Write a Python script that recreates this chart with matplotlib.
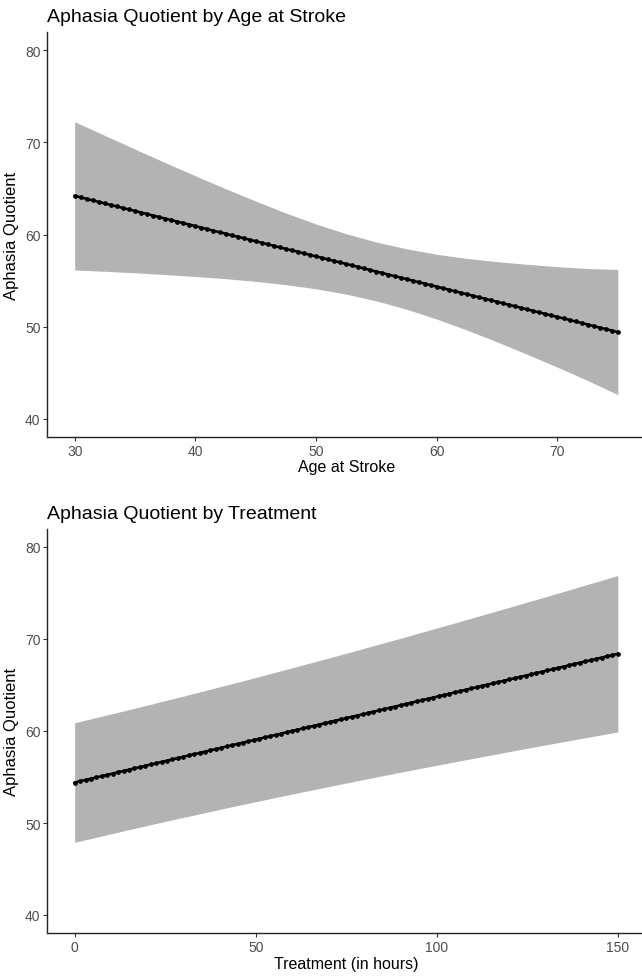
import numpy as np
import matplotlib.pyplot as plt

plt.rcParams['font.family'] = ['Liberation Sans', 'DejaVu Sans']

# --- panel 1: age at stroke ---
age_band_x = [30, 32.5, 35, 37.5, 40, 42.5, 45, 47.5, 50, 52.5, 55, 57.5, 60, 62.5, 65, 67.5, 70, 72.5, 75]
age_upper = [72.25, 70.76, 69.28, 67.81, 66.38, 64.98, 63.63, 62.33, 61.14, 60.08, 59.18, 58.44, 57.85, 57.40,
             57.05, 56.76, 56.50, 56.30, 56.20]
age_lower = [56.15, 56.00, 55.84, 55.65, 55.44, 55.20, 54.91, 54.55, 54.10, 53.52, 52.78, 51.88, 50.81, 49.62,
             48.33, 46.98, 45.58, 44.14, 42.60]
age_x = np.arange(30, 75.01, 0.5)
age_pred = [64.20, 64.04, 63.87, 63.71, 63.54, 63.38, 63.21, 63.05, 62.88, 62.72,
            62.56, 62.39, 62.23, 62.06, 61.90, 61.73, 61.57, 61.40, 61.24, 61.08,
            60.91, 60.75, 60.58, 60.42, 60.25, 60.09, 59.92, 59.76, 59.60, 59.43,
            59.27, 59.10, 58.94, 58.77, 58.61, 58.44, 58.28, 58.12, 57.95, 57.79,
            57.62, 57.46, 57.29, 57.13, 56.96, 56.80, 56.64, 56.47, 56.31, 56.14,
            55.98, 55.81, 55.65, 55.48, 55.32, 55.16, 54.99, 54.83, 54.66, 54.50,
            54.33, 54.17, 54.00, 53.84, 53.68, 53.51, 53.35, 53.18, 53.02, 52.85,
            52.69, 52.52, 52.36, 52.20, 52.03, 51.87, 51.70, 51.54, 51.37, 51.21,
            51.04, 50.88, 50.72, 50.55, 50.39, 50.22, 50.06, 49.89, 49.73, 49.56,
            49.40]

# --- panel 2: treatment hours ---
trt_band_x = [0, 15, 30, 45, 60, 75, 90, 105, 120, 135, 150]
trt_upper = [60.90, 62.32, 63.79, 65.30, 66.86, 68.45, 70.08, 71.75, 73.44, 75.16, 76.90]
trt_lower = [47.90, 49.28, 50.61, 51.90, 53.14, 54.35, 55.52, 56.65, 57.76, 58.84, 59.90]
trt_x = np.arange(0, 150.01, 1.5)
trt_pred = [54.40, 54.54, 54.68, 54.82, 54.96, 55.10, 55.24, 55.38, 55.52, 55.66,
            55.80, 55.94, 56.08, 56.22, 56.36, 56.50, 56.64, 56.78, 56.92, 57.06,
            57.20, 57.34, 57.48, 57.62, 57.76, 57.90, 58.04, 58.18, 58.32, 58.46,
            58.60, 58.74, 58.88, 59.02, 59.16, 59.30, 59.44, 59.58, 59.72, 59.86,
            60.00, 60.14, 60.28, 60.42, 60.56, 60.70, 60.84, 60.98, 61.12, 61.26,
            61.40, 61.54, 61.68, 61.82, 61.96, 62.10, 62.24, 62.38, 62.52, 62.66,
            62.80, 62.94, 63.08, 63.22, 63.36, 63.50, 63.64, 63.78, 63.92, 64.06,
            64.20, 64.34, 64.48, 64.62, 64.76, 64.90, 65.04, 65.18, 65.32, 65.46,
            65.60, 65.74, 65.88, 66.02, 66.16, 66.30, 66.44, 66.58, 66.72, 66.86,
            67.00, 67.14, 67.28, 67.42, 67.56, 67.70, 67.84, 67.98, 68.12, 68.26,
            68.40]

y_ticks = [40, 50, 60, 70, 80]

W, H = 642, 978
fig = plt.figure(figsize=(W / 100, H / 100), dpi=100)
fig.patch.set_facecolor('white')


def panel(top_px, bot_px, title, xlabel, bx, lo, hi, px, py, xticks, xlim):
    ax = fig.add_axes([47.5 / W, 1 - bot_px / H, 597.5 / W, (bot_px - top_px) / H])
    ax.fill_between(bx, lo, hi, color='#b3b3b3', linewidth=0)
    ax.plot(px, py, color='black', linewidth=1.8, marker='o', markersize=2.4)
    ax.set_xlim(*xlim)
    ax.set_ylim(38, 82)
    ax.set_xticks(xticks)
    ax.set_yticks(y_ticks)
    for side in ['top', 'right']:
        ax.spines[side].set_visible(False)
    for side in ['left', 'bottom']:
        ax.spines[side].set_linewidth(1.0)
        ax.spines[side].set_color('#222222')
    ax.tick_params(length=3, width=0.8, color='#333333', labelsize=10, labelcolor='#4d4d4d', pad=2)
    ax.set_xlabel(xlabel, fontsize=11.5, color='black', labelpad=1)
    ax.set_ylabel('Aphasia Quotient', fontsize=12, color='black', labelpad=4)
    fig.text(47.5 / W, 1 - (top_px - 15) / H, title, fontsize=14, ha='left', va='center')
    return ax


panel(33, 438, 'Aphasia Quotient by Age at Stroke', 'Age at Stroke',
      age_band_x, age_lower, age_upper, age_x, age_pred, [30, 40, 50, 60, 70], (27.75, 77.25))
panel(529.6, 934.4, 'Aphasia Quotient by Treatment', 'Treatment (in hours)',
      trt_band_x, trt_lower, trt_upper, trt_x, trt_pred, [0, 50, 100, 150], (-7.5, 157.5))

fig.savefig('out.png', dpi=100, facecolor='white')
